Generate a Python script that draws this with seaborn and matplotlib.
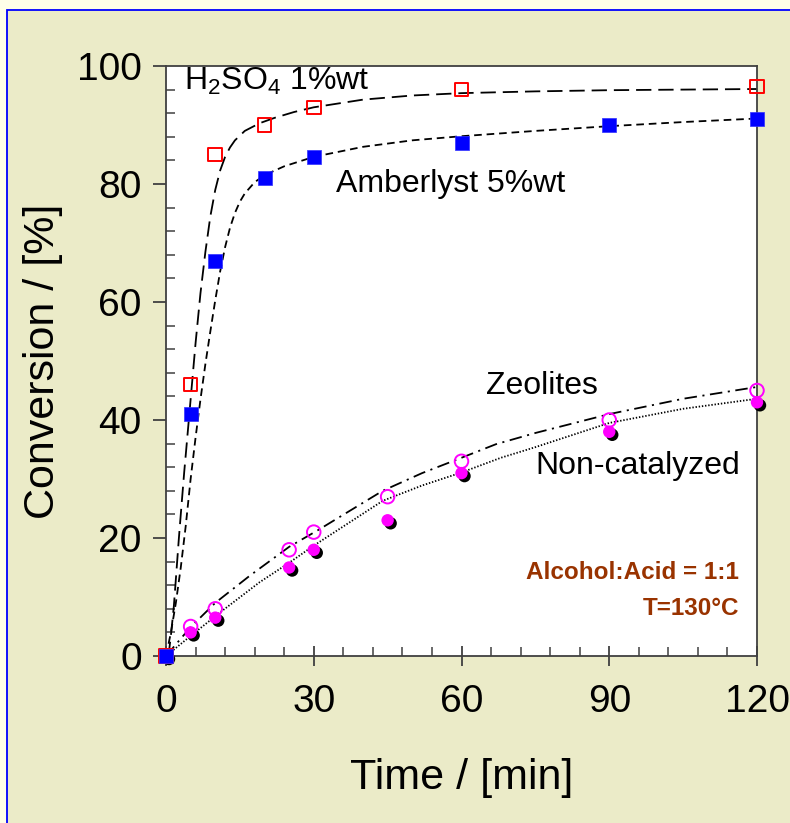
import numpy as np
import pandas as pd
import matplotlib
matplotlib.use("Agg")
import matplotlib.pyplot as plt
import matplotlib.patches as mpatches
from matplotlib.transforms import offset_copy
from matplotlib.ticker import MultipleLocator
import seaborn as sns

# ---- measured points ----
time_h2so4 = [0, 5, 10, 20, 30, 60, 120]
conv_h2so4 = [0, 46, 85, 90, 93, 96, 96.5]

time_amb = [0, 5, 10, 20, 30, 60, 90, 120]
conv_amb = [0, 41, 67, 81, 84.5, 87, 90, 91]

time_zeo = [0, 5, 10, 25, 30, 45, 60, 90, 120]
conv_zeo = [0, 5, 8, 18, 21, 27, 33, 40, 45]

time_non = [0, 5, 10, 25, 30, 45, 60, 90, 120]
conv_non = [0, 4, 6.5, 15, 18, 23, 31, 38, 43]

# ---- fitted curves ----
fit_t_h2so4 = [0, 0.6, 1, 1.6, 2, 2.6, 3, 3.7, 4, 5, 6, 7, 8, 9, 10, 11, 12, 13, 14, 16, 19, 22, 26, 30, 40, 50, 60, 75, 90, 105, 120]
fit_y_h2so4 = [0, 0.7, 3.5, 8.5, 13, 19.8, 24, 31.2, 34, 43.5, 53, 61.5, 68.5, 74.5, 79, 82.3, 84.6, 86.2, 87.4, 89, 90.3, 91.2, 92.2, 93, 94.3, 95, 95.4, 95.7, 95.9, 96, 96.1]

fit_t_amb = [0, 1, 2, 3, 4, 5, 6, 7, 8, 9, 10, 11, 12, 13, 14, 15, 16, 18, 20, 24, 30, 40, 50, 60, 75, 90, 105, 120]
fit_y_amb = [0, 4, 9, 15, 22, 30, 37, 43.5, 49.5, 55, 60.3, 65.2, 69.3, 72.6, 75.1, 77, 78.4, 80.3, 81.5, 83, 84.6, 86.3, 87.4, 88.1, 89, 89.8, 90.5, 91.1]

fit_t_zeo = [0, 5, 10, 17, 25, 31, 44, 52, 60, 67, 75, 90, 105, 120]
fit_y_zeo = [0, 4.9, 9, 13.6, 18.5, 21.4, 28, 31, 33.6, 35.9, 37.8, 41, 43.6, 45.6]

fit_t_non = [0, 5, 11, 19, 25, 30, 44, 52, 60, 68, 75, 90, 105, 120]
fit_y_non = [0, 3.4, 7.4, 12.5, 15.8, 18.7, 26.3, 28.9, 31.1, 33.6, 35.4, 39.5, 41.9, 43.6]

x_ticks = [0, 30, 60, 90, 120]
y_ticks = [0, 20, 40, 60, 80, 100]

sns.set_theme(style="ticks")
plt.rcParams["font.family"] = ["Liberation Sans", "DejaVu Sans"]
plt.rcParams["mathtext.fontset"] = "custom"
plt.rcParams["mathtext.rm"] = "Liberation Sans"
plt.rcParams["mathtext.it"] = "Liberation Sans:italic"
plt.rcParams["lines.scale_dashes"] = False
plt.rcParams["text.color"] = "black"
plt.rcParams["axes.labelcolor"] = "black"
plt.rcParams["xtick.labelcolor"] = "black"
plt.rcParams["ytick.labelcolor"] = "black"

W, H = 790, 823
fig = plt.figure(figsize=(W / 100, H / 100), dpi=100, facecolor="#FFFFE8")
# inner panel with blue border
panel = mpatches.Rectangle((7 / W, -0.05), 1.2, 1 - 10 / H + 0.05, transform=fig.transFigure,
                           facecolor="#EBEBC8", edgecolor="#0000FF", linewidth=1.3, zorder=-10)
fig.patches.append(panel)

ax = fig.add_axes([166 / W, 1 - 656 / H, (757 - 166) / W, (656 - 66) / H])
ax.set_zorder(5)
ax.set_facecolor("white")

lw = 1.3
sns.lineplot(x=fit_t_h2so4, y=fit_y_h2so4, ax=ax, color="black", lw=lw, linestyle=(0, (11, 5)), sort=False)
sns.lineplot(x=fit_t_amb, y=fit_y_amb, ax=ax, color="black", lw=lw, linestyle=(0, (5.5, 3.5)), sort=False)
sns.lineplot(x=fit_t_zeo, y=fit_y_zeo, ax=ax, color="black", lw=lw, linestyle=(0, (9, 4, 1.5, 4)), sort=False)
sns.lineplot(x=fit_t_non, y=fit_y_non, ax=ax, color="black", lw=lw, linestyle=(0, (1, 1.3)), sort=False)

msz = 95
# non-catalyzed: magenta filled with black shadow
shadow = offset_copy(ax.transData, fig=fig, x=3, y=-3, units="dots")
sns.scatterplot(x=time_non, y=conv_non, ax=ax, marker="o", s=80, color="black", edgecolor="none",
                transform=shadow, clip_on=False, zorder=3)
sns.scatterplot(x=time_non, y=conv_non, ax=ax, marker="o", s=80, color="#FF00FF", edgecolor="none",
                clip_on=False, zorder=4)
# zeolites: open magenta circles
sns.scatterplot(x=time_zeo, y=conv_zeo, ax=ax, marker="o", s=msz, facecolor="none", edgecolor="#FF00FF",
                linewidth=1.4, clip_on=False, zorder=5)
# H2SO4: open red squares
sns.scatterplot(x=time_h2so4, y=conv_h2so4, ax=ax, marker="s", s=msz, facecolor="none", edgecolor="#FF0000",
                linewidth=1.4, clip_on=False, zorder=5)
# Amberlyst: filled blue squares
sns.scatterplot(x=time_amb, y=conv_amb, ax=ax, marker="s", s=msz, color="#0000FF", edgecolor="#3030FF",
                linewidth=0.5, clip_on=False, zorder=6)

ax.set_xlim(0, 120)
ax.set_ylim(0, 100)
ax.set_xticks(x_ticks)
ax.set_yticks(y_ticks)
ax.xaxis.set_minor_locator(MultipleLocator(6))
ax.yaxis.set_minor_locator(MultipleLocator(4))

spc = "#404040"
for s in ax.spines.values():
    s.set_visible(True)
    s.set_color(spc)
    s.set_linewidth(1.3)

ax.tick_params(axis="x", which="major", direction="inout", length=15, width=1.3, color=spc,
               labelsize=28, pad=13, top=False)
ax.tick_params(axis="y", which="major", direction="out", length=9.5, width=1.3, color=spc,
               labelsize=28, pad=8, right=False)
ax.tick_params(axis="both", which="minor", direction="in", length=6.5, width=1.1, color=spc,
               top=False, right=False)

ax.set_xlabel("Time / [min]", fontsize=31, labelpad=27)
ax.set_ylabel("Conversion / [%]", fontsize=31, labelpad=10)

ax.text(3.7, 97.4, r"H$_2$SO$_4$ 1%wt", fontsize=23, va="center", ha="left")
ax.text(34.5, 80, "Amberlyst 5%wt", fontsize=23, va="center", ha="left")
ax.text(65, 45.8, "Zeolites", fontsize=23, va="center", ha="left")
ax.text(75.1, 32.2, "Non-catalyzed", fontsize=23, va="center", ha="left")
ax.text(116.3, 14.2, "Alcohol:Acid = 1:1", fontsize=17.5, fontweight="bold", color="#993300",
        va="center", ha="right")
ax.text(116.3, 8.1, "T=130°C", fontsize=17.5, fontweight="bold", color="#993300",
        va="center", ha="right")

fig.savefig("out.png", dpi=100, facecolor=fig.get_facecolor())
